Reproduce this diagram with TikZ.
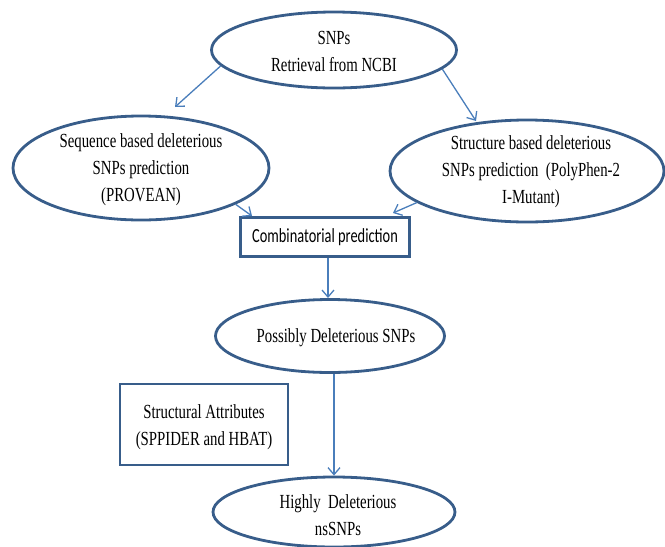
\documentclass[tikz,border=0pt]{standalone}
\usepackage{fontspec}
\usetikzlibrary{shapes.geometric,arrows.meta}
\newfontfamily\tnrfont[FakeStretch=0.74]{Liberation Serif}
\newfontfamily\calfont[FakeStretch=0.72]{Carlito}
\definecolor{shapeblue}{HTML}{385D8A}
\definecolor{linkblue}{HTML}{4A7EBB}
\begin{document}
\begin{tikzpicture}[x=1pt,y=-1pt,
  ell/.style={draw=shapeblue, line width=2.8pt, ellipse, inner sep=0pt},
  boxed/.style={draw=shapeblue, line width=2.6pt, rectangle, inner sep=0pt},
  txt/.style={font=\tnrfont\fontsize{20}{27}\selectfont, align=center, text=black, inner sep=0pt},
  caltxt/.style={font=\calfont\fontsize{20}{24}\selectfont, align=center, text=black, inner sep=0pt},
  link/.style={draw=linkblue, line width=1.3pt, -{Straight Barb[length=7pt,width=12pt,line width=1.3pt]}}]
\useasboundingbox (0,0) rectangle (665,547);
% shapes
\node[ell, minimum width=245pt, minimum height=76pt] (top) at (334,50) {};
\node[txt] (toptxt) at (334,51) {SNPs\\Retrieval from NCBI};
\node[ell, minimum width=256pt, minimum height=104pt] (left) at (141,168) {};
\node[txt] (lefttxt) at (141,170) {Sequence based deleterious\\SNPs prediction\\(PROVEAN)};
\node[ell, minimum width=274pt, minimum height=102pt] (right) at (527,171) {};
\node[txt] (righttxt) at (531,172) {Structure based deleterious\\SNPs prediction\ \ (PolyPhen-2\\I-Mutant)};
\node[boxed, minimum width=169pt, minimum height=39pt, caltxt] (combo) at (325,237) {Combinatorial prediction};
\node[ell, minimum width=229pt, minimum height=73pt] (poss) at (330,336) {};
\node[txt] (posstxt) at (336,338) {Possibly Deleterious SNPs};
\node[boxed, minimum width=168pt, minimum height=81pt] (struct) at (204,424.5) {};
\node[txt] (structtxt) at (204,427) {Structural Attributes\\(SPPIDER and HBAT)};
\node[ell, minimum width=242pt, minimum height=70pt] (high) at (334,512) {};
\node[txt] (hightxt) at (338,515) {Highly\ \ Deleterious\\nsSNPs};
% free ends
\coordinate (e1) at (175,107);
\coordinate (e2) at (476,121);
\coordinate (e3) at (252,216);
\coordinate (e4) at (393,213);
% connectors
\draw[link] (top.188) -- (e1);
\draw[link] (top.350) -- (e2);
\draw[link] (left.-21) -- (e3);
\draw[link] (right.196) -- (e4);
\draw[link] (combo.south -| 328,0) -- (328,298);
\draw[link] (high.north |- poss.south) -- (high.north);
\end{tikzpicture}
\end{document}
